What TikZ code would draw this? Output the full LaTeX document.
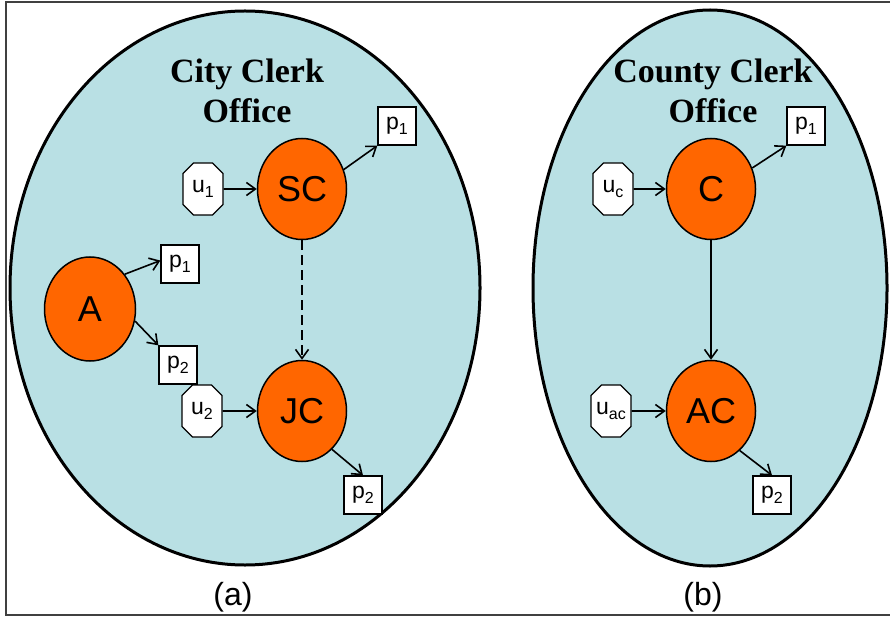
\documentclass[tikz,border=0pt]{standalone}
\usepackage{fontspec}
\setmainfont{Liberation Sans}
\newfontfamily\titlefont{Liberation Serif}
\usetikzlibrary{arrows.meta,shapes.geometric,shapes.misc}

\definecolor{officeblue}{RGB}{185,224,228}
\definecolor{clerkorange}{RGB}{255,102,0}

\tikzset{
	office/.style={ellipse, draw=black, line width=3pt, fill=officeblue, inner sep=0pt},
	officetitle/.style={align=center, font=\titlefont\bfseries\fontsize{34}{40}\selectfont},
	clerk/.style={ellipse, draw=black, line width=1.5pt, fill=clerkorange, inner sep=0pt,
		minimum width=89pt, minimum height=101pt, font=\fontsize{36}{36}\selectfont},
	user/.style={chamfered rectangle, chamfered rectangle xsep=5pt, chamfered rectangle ysep=5.5pt,
		draw=black, line width=1.3pt, fill=white, inner sep=0pt,
		minimum width=40pt, minimum height=52pt, font=\fontsize{23}{23}\selectfont},
	paper/.style={rectangle, draw=black, line width=1.3pt, fill=white, inner sep=0pt,
		minimum size=38pt, font=\fontsize{23}{23}\selectfont},
	flow/.style={line width=1.6pt, -{Straight Barb[length=9pt,width=13pt]}},
	panel/.style={font=\fontsize{32}{32}\selectfont}
}
\newcommand{\lowsub}[1]{\raisebox{-5pt}{\fontsize{16}{16}\selectfont #1}}

\begin{document}
\begin{tikzpicture}[x=1pt, y=-1pt]
		%%%%% START %%%%%
		\useasboundingbox (0, 0) rectangle (890, 617);
		\draw[line width=2pt, color=black!75] (6, 2) rectangle (900, 615);
		
		% city clerk office
		\node[office, minimum width=470pt, minimum height=554pt] (city) at (245, 288) {};
		\node[officetitle] (citytitle) at (247, 91) {City Clerk\\Office};
		
		\node[clerk] (SC) at (302, 189) {SC};
		\node[user] (u1) at (203, 189) {u\lowsub{1}};
		\node[paper] (ps1) at (397, 126) {p\lowsub{1}};
		
		\node[clerk, minimum width=91pt, minimum height=104pt] (A) at (90, 309) {A};
		\node[paper] (pa1) at (180, 264) {p\lowsub{1}};
		\node[paper] (pa2) at (178, 365) {p\lowsub{2}};
		
		\node[clerk] (JC) at (302, 411) {JC};
		\node[user] (u2) at (202, 411) {u\lowsub{2}};
		\node[paper] (pj2) at (363, 495) {p\lowsub{2}};
		
		\draw[flow] (u1) -- (SC);
		\draw[flow] (SC.25) -- (ps1.south west);
		\draw[flow] (A.45) -- (pa1.170);
		\draw[flow] (A.-15) -- (pa2.north west);
		\draw[flow, dash pattern=on 10pt off 5pt] (SC) -- (JC);
		\draw[flow] (u2) -- (JC);
		\draw[flow] (JC.-52) -- (pj2.north);
		
		% county clerk office
		\node[office, minimum width=354pt, minimum height=556pt] (county) at (710, 288) {};
		\node[officetitle] (countytitle) at (713, 91) {County Clerk\\Office};
		
		\node[clerk] (C) at (711, 189) {C};
		\node[user] (uc) at (613, 189) {u\lowsub{c}};
		\node[paper] (pc1) at (806, 126) {p\lowsub{1}};
		
		\node[clerk] (AC) at (711, 411) {AC};
		\node[user] (uac) at (611, 411) {u\lowsub{ac}};
		\node[paper] (pac2) at (772, 495) {p\lowsub{2}};
		
		\draw[flow] (uc) -- (C);
		\draw[flow] (C.27) -- (pc1.south west);
		\draw[flow] (C) -- (AC);
		\draw[flow] (uac) -- (AC);
		\draw[flow] (AC.-54) -- (pac2.north);
		
		\node[panel] (panela) at (233, 597) {(a)};
		\node[panel] (panelb) at (703, 597) {(b)};
		%%%%% END %%%%%
\end{tikzpicture}
\end{document}
